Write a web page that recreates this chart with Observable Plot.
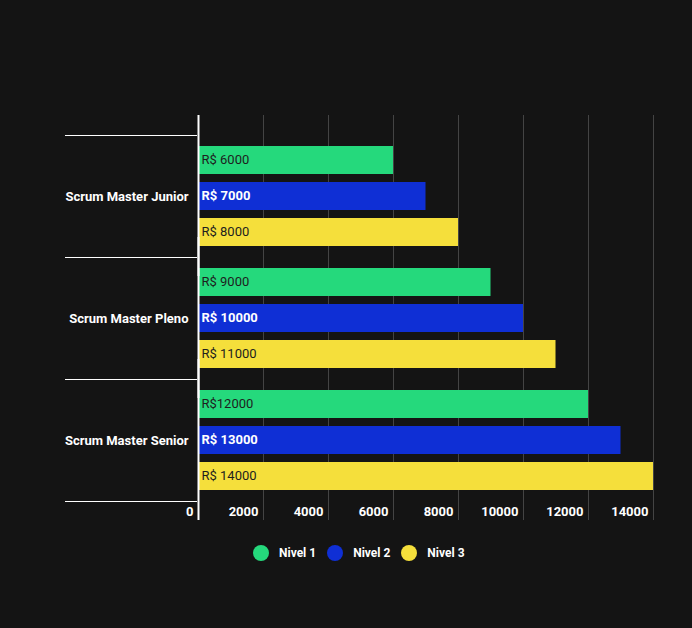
<!DOCTYPE html>
<html>
<head>
<meta charset="utf-8">
<script src="https://cdn.jsdelivr.net/npm/d3@7"></script>
<script src="https://cdn.jsdelivr.net/npm/@observablehq/plot@0.6"></script>
<style>
  html, body { margin: 0; padding: 0; background: #141414; }
  #chart { width: 692px; font-family: Roboto, sans-serif; }
  .legend { display: flex; align-items: center; height: 26px; padding-left: 253px; font: bold 12px Roboto, sans-serif; color: #ffffff; }
  .legend .sw { width: 16px; height: 16px; border-radius: 50%; margin-right: 10px; }
  .legend .it { display: flex; align-items: center; margin-right: 11px; }
</style>
</head>
<body>
<div id="chart"></div>
<script>
const categories = ["Scrum Master Junior", "Scrum Master Pleno", "Scrum Master Senior"];
const levels = ["Nivel 1", "Nivel 2", "Nivel 3"];
const nivel1 = [6000, 9000, 12000];
const nivel2 = [7000, 10000, 13000];
const nivel3 = [8000, 11000, 14000];
const labels1 = ["R$ 6000", "R$ 9000", "R$12000"];
const labels2 = ["R$ 7000", "R$ 10000", "R$ 13000"];
const labels3 = ["R$ 8000", "R$ 11000", "R$ 14000"];
const xTicks = [0, 2000, 4000, 6000, 8000, 10000, 12000, 14000];
const colors = ["#25d97c", "#0f2fd5", "#f5df3b"];

const series = [nivel1, nivel2, nivel3];
const seriesLabels = [labels1, labels2, labels3];
const data = [];
categories.forEach((c, i) => {
  levels.forEach((l, j) => {
    data.push({category: c, level: l, value: series[j][i], label: seriesLabels[j][i]});
  });
});

const plot = Plot.plot({
  width: 692,
  height: 540,
  marginTop: 134,
  marginBottom: 39,
  marginLeft: 198,
  marginRight: 39,
  style: {background: "#141414", color: "#ffffff", fontFamily: "Roboto, sans-serif"},
  x: {domain: [0, 14000], label: null},
  y: {domain: levels, paddingInner: 0.21, paddingOuter: 0.28, axis: null},
  fy: {domain: categories, padding: 0, label: null},
  color: {domain: levels, range: colors},
  marks: [
    Plot.gridX(xTicks, {stroke: "#444444", strokeOpacity: 1, strokeWidth: 1, insetTop: -20, insetBottom: -19}),
    Plot.barX(data, {x: "value", y: "level", fy: "category", fill: "level"}),
    Plot.text(data.filter(d => d.level !== "Nivel 2"), {x: 0, y: "level", fy: "category", text: "label", textAnchor: "start", dx: 3, dy: -1, fill: "#1e1e1e", fontSize: 13}),
    Plot.text(data.filter(d => d.level === "Nivel 2"), {x: 0, y: "level", fy: "category", text: "label", textAnchor: "start", dx: 3, dy: -1, fill: "#ffffff", fontSize: 13, fontWeight: "bold"}),
    Plot.ruleX([0], {stroke: "#ffffff", strokeWidth: 2, insetTop: -20, insetBottom: -19}),
    Plot.axisX(xTicks, {anchor: "bottom", tickSize: 0, tickPadding: 5, textAnchor: "end", dx: -5, fontSize: 13, fontWeight: "bold", fill: "#ffffff", label: null, tickFormat: d => String(d)}),
    Plot.axisFy({anchor: "left", tickSize: 0, tickPadding: 10, fontSize: 13, fontWeight: "bold", fill: "#ffffff", label: null})
  ]
});

// category separators at the facet band edges, from the fy scale
const fy = plot.scale("fy");
const svg = d3.select(plot.tagName === "svg" ? plot : plot.querySelector("svg"));
const edges = fy.domain.map(d => fy.apply(d));
edges.push(fy.apply(fy.domain[fy.domain.length - 1]) + fy.bandwidth);
svg.append("g").selectAll("line").data(edges).join("line")
  .attr("x1", 65).attr("x2", 197)
  .attr("y1", d => Math.round(d) + 0.5).attr("y2", d => Math.round(d) + 0.5)
  .attr("stroke", "#ffffff").attr("stroke-width", 1.2);

document.getElementById("chart").appendChild(plot);

const legend = document.createElement("div");
legend.className = "legend";
levels.forEach((l, i) => {
  const it = document.createElement("div");
  it.className = "it";
  const sw = document.createElement("div");
  sw.className = "sw";
  sw.style.background = colors[i];
  const t = document.createElement("span");
  t.textContent = l;
  it.appendChild(sw);
  it.appendChild(t);
  legend.appendChild(it);
});
document.getElementById("chart").appendChild(legend);
</script>
</body>
</html>
